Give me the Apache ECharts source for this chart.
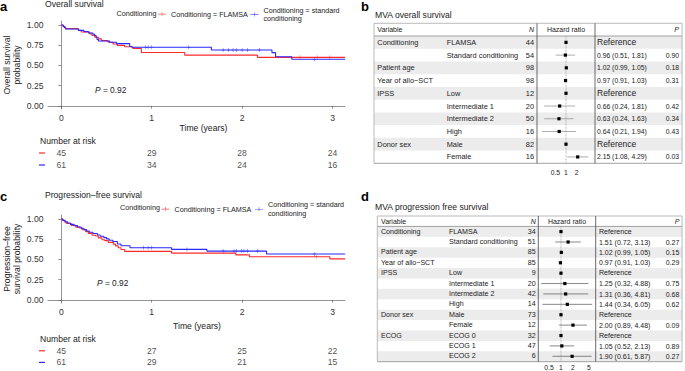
<!DOCTYPE html>
<html><head><meta charset="utf-8">
<script src="https://cdn.jsdelivr.net/npm/echarts@6/dist/echarts.min.js"></script>
<style>html,body{margin:0;padding:0;background:#fff}#c{width:685px;height:371px}</style>
</head><body><div id="c"></div>
<script>
// ---------------- data ----------------
const timeTicks = [0, 1, 2, 3];
const survTicks = [0, 0.25, 0.5, 0.75, 1];

const osFlamsa = [[0,1],[0.02,0.978],[0.045,0.956],[0.186,0.935],[0.22,0.913],[0.315,0.891],[0.34,0.87],[0.37,0.849],[0.41,0.828],[0.443,0.807],[0.517,0.786],[0.572,0.765],[0.62,0.748],[0.70,0.731],[0.79,0.711],[0.885,0.66],[1.365,0.627],[2.17,0.600],[3.14,0.600]];
const osStandard = [[0,1],[0.02,0.984],[0.035,0.967],[0.05,0.951],[0.19,0.934],[0.25,0.918],[0.3,0.902],[0.35,0.885],[0.37,0.869],[0.385,0.852],[0.395,0.82],[0.41,0.803],[0.535,0.787],[0.61,0.770],[0.756,0.735],[0.78,0.724],[1.66,0.69],[2.33,0.658],[2.37,0.608],[2.55,0.576],[3.14,0.576]];
const osFlamsaCensor = [2.64, 2.83, 2.97];
const osStandardCensor = [0.93, 0.96, 1.0, 1.41, 1.79, 1.85, 1.90, 1.94, 2.0, 2.06, 2.19, 2.80];

const pfsFlamsa = [[0,1],[0.02,0.978],[0.045,0.956],[0.06,0.944],[0.11,0.922],[0.16,0.9],[0.2,0.889],[0.23,0.867],[0.27,0.844],[0.3,0.822],[0.34,0.80],[0.38,0.789],[0.41,0.767],[0.45,0.744],[0.48,0.733],[0.52,0.711],[0.575,0.689],[0.6,0.667],[0.63,0.644],[0.66,0.622],[0.70,0.600],[1.22,0.578],[1.93,0.556],[2.08,0.533],[2.97,0.507],[3.14,0.507]];
const pfsStandard = [[0,1],[0.015,0.984],[0.04,0.967],[0.07,0.951],[0.1,0.934],[0.14,0.918],[0.18,0.902],[0.22,0.885],[0.25,0.869],[0.28,0.852],[0.31,0.836],[0.35,0.82],[0.4,0.803],[0.43,0.787],[0.47,0.77],[0.5,0.754],[0.53,0.738],[0.57,0.721],[0.62,0.69],[0.66,0.67],[0.76,0.645],[1.22,0.624],[1.61,0.603],[2.27,0.567],[3.14,0.567]];
const pfsFlamsaCensor = [2.82];
const pfsStandardCensor = [0.91, 0.96, 1.0, 1.39, 1.79, 1.91, 1.94, 1.99, 2.02, 2.06, 2.17, 2.80];

const osRiskFlamsa = [45, 29, 28, 24];
const osRiskStandard = [61, 34, 24, 16];
const pfsRiskFlamsa = [45, 27, 25, 22];
const pfsRiskStandard = [61, 29, 21, 15];

const tableHeader = ['Variable', 'N', 'Hazard ratio', 'P'];

const osVar = ['Conditioning','','Patient age','Year of allo−SCT','IPSS','','','','Donor sex',''];
const osLevel = ['FLAMSA','Standard conditioning','','','Low','Intermediate 1','Intermediate 2','High','Male','Female'];
const osN = [44,54,98,98,12,20,50,16,82,16];
const osHR = [1,0.96,1.02,0.97,1,0.66,0.63,0.64,1,2.15];
const osLo = [null,0.51,0.99,0.91,null,0.24,0.24,0.21,null,1.08];
const osHi = [null,1.81,1.05,1.03,null,1.81,1.63,1.94,null,4.29];
const osP = [null,0.90,0.18,0.31,null,0.42,0.34,0.43,null,0.03];
const osHRTicks = [0.5, 1, 2];

const pfsVar = ['Conditioning','','Patient age','Year of allo−SCT','IPSS','','','','Donor sex','','ECOG','',''];
const pfsLevel = ['FLAMSA','Standard conditioning','','','Low','Intermediate 1','Intermediate 2','High','Male','Female','ECOG 0','ECOG 1','ECOG 2'];
const pfsN = [34,51,85,85,9,20,42,14,73,12,32,47,6];
const pfsHR = [1,1.51,1.02,0.97,1,1.25,1.31,1.44,1,2.00,1,1.05,1.90];
const pfsLo = [null,0.72,0.99,0.91,null,0.32,0.36,0.34,null,0.89,null,0.52,0.61];
const pfsHi = [null,3.13,1.05,1.03,null,4.88,4.81,6.05,null,4.48,null,2.13,5.87];
const pfsP = [null,0.27,0.15,0.29,null,0.75,0.68,0.62,null,0.09,null,0.89,0.27];
const pfsHRTicks = [0.5, 1, 2, 5];

// ---------------- styling ----------------
const FONT = '"Liberation Sans", Arial, Helvetica, sans-serif';
const RED = '#ff2a2a', BLUE = '#2a2aff', TXT = '#222';
const NAME_F = 'Conditioning = FLAMSA';
const NAME_S = 'Conditioning = standard conditioning';
const PLUS = 'path://M0,4.4h10v1.2h-10z M4.2,0h1.6v10h-1.6z';
const LEG_ICON = 'path://M0,4.3h20v1.4h-20z M9.2,0h1.6v10h-1.6z';
const X_MIN = -0.147, X_MAX = 3.138;

function sAt(curve, t) { let s = curve[0][1]; for (const p of curve) if (p[0] <= t) s = p[1]; return s; }

function kmSeries(curve, censor, name, color, idx) {
  return [
    { type: 'scatter', name, xAxisIndex: idx, yAxisIndex: idx, data: censor.map(t => [t, sAt(curve, t)]),
      symbol: PLUS, symbolSize: [3.2, 4], itemStyle: { color }, z: 4 },
    { type: 'line', name, xAxisIndex: idx, yAxisIndex: idx, step: 'end', data: curve,
      symbol: 'none', showSymbol: false, color, lineStyle: { width: 1.1, color }, z: 3 }
  ];
}

function riskSeries(values, cat, idx) {
  return { type: 'scatter', xAxisIndex: idx, yAxisIndex: idx, symbolSize: 0,
    data: values.map((n, i) => [timeTicks[i], cat, n]),
    label: { show: true, position: 'inside', formatter: p => String(p.value[2]),
      fontSize: 8.6, color: TXT, fontFamily: FONT } };
}

function txtEl(s, x, y, align, fs, italic) {
  return { type: 'text', style: { text: s, x, y, align, verticalAlign: 'middle',
    fill: TXT, fontSize: fs, fontFamily: FONT, fontStyle: italic ? 'italic' : 'normal' } };
}

function tableSeries(cfg) {
  const data = [[0, -1]].concat(cfg.level.map((_, i) => [0, i]));
  return {
    type: 'custom', xAxisIndex: cfg.ax, yAxisIndex: cfg.ax, z: 1, silent: true, data,
    renderItem(params, api) {
      const r = api.value(1);
      const a = api.coord([0, r - 0.5]), b = api.coord([cfg.W, r + 0.5]);
      const cy = (a[1] + b[1]) / 2;
      const X = u => api.coord([u, r])[0];
      const ch = [];
      if (r < 0) {
        ch.push(txtEl(tableHeader[0], X(cfg.cVar), cy, 'left', cfg.hfs));
        ch.push(txtEl(tableHeader[1], X(cfg.cN), cy, 'right', cfg.hfs, true));
        ch.push(txtEl(tableHeader[2], X(cfg.cHRh), cy, 'center', cfg.hfs));
        ch.push(txtEl(tableHeader[3], X(cfg.cP), cy, 'right', cfg.hfs, true));
      } else {
        if (r % 2 === 0) ch.push({ type: 'rect', shape: { x: a[0], y: Math.min(a[1], b[1]), width: b[0] - a[0], height: Math.abs(b[1] - a[1]) }, style: { fill: '#ececec' } });
        ch.push(txtEl(cfg.vars[r], X(cfg.cVar), cy, 'left', cfg.fs));
        ch.push(txtEl(cfg.level[r], X(cfg.cLev), cy, 'left', cfg.fs));
        ch.push(txtEl(String(cfg.n[r]), X(cfg.cN), cy, 'right', cfg.fs));
        if (cfg.lo[r] == null) {
          ch.push(txtEl('Reference', X(cfg.cHR), cy, 'left', cfg.refFs));
        } else {
          ch.push(txtEl(cfg.hr[r].toFixed(2) + ' (' + cfg.lo[r].toFixed(2) + ', ' + cfg.hi[r].toFixed(2) + ')', X(cfg.cHR), cy, 'left', cfg.hrFs));
          ch.push(txtEl(cfg.p[r].toFixed(2), X(cfg.cP), cy, 'right', cfg.hrFs));
        }
      }
      return { type: 'group', children: ch };
    }
  };
}

function frameSeries(cfg) {
  const N = cfg.level.length;
  return {
    type: 'custom', xAxisIndex: cfg.ax, yAxisIndex: cfg.ax, z: 2, silent: true, data: [[0, 0]],
    renderItem(params, api) {
      const P = (u, r) => api.coord([u, r]);
      const L = (p, q, c, w) => ({ type: 'line', shape: { x1: p[0], y1: p[1], x2: q[0], y2: q[1] }, style: { stroke: c, lineWidth: w } });
      const top = -1.5, hb = -0.5, bot = N - 0.5;
      return { type: 'group', children: [
        L(P(0, top), P(cfg.W, top), '#a8a8a8', 0.8),
        L(P(0, hb), P(cfg.W, hb), '#8a8a8a', 0.8),
        L(P(0, bot), P(cfg.W, bot), '#8a8a8a', 0.8),
        L(P(0, top), P(0, bot), '#a8a8a8', 0.8),
        L(P(cfg.W, top), P(cfg.W, bot), '#a8a8a8', 0.8),
        L(P(cfg.sep1, top), P(cfg.sep1, bot), '#444', 0.8),
        L(P(cfg.sep2, top), P(cfg.sep2, bot), '#444', 0.8)
      ] };
    }
  };
}

function forestSeries(cfg, ax) {
  return [
    { type: 'line', xAxisIndex: ax, yAxisIndex: ax, data: [[1, -0.5], [1, cfg.hr.length - 0.5]], symbol: 'none',
      lineStyle: { type: 'dotted', color: '#888', width: 0.7 }, z: 3, silent: true },
    { type: 'custom', xAxisIndex: ax, yAxisIndex: ax, z: 4, silent: true,
      data: cfg.hr.map((h, i) => [h, i]),
      renderItem(params, api) {
        const i = params.dataIndex;
        const c = api.coord([api.value(0), api.value(1)]);
        const ch = [];
        if (cfg.lo[i] != null) {
          const p = api.coord([cfg.lo[i], i]), q = api.coord([cfg.hi[i], i]);
          ch.push({ type: 'line', shape: { x1: p[0], y1: p[1], x2: q[0], y2: q[1] }, style: { stroke: cfg.ciColor, lineWidth: 0.7 } });
        }
        const s = 3.2;
        ch.push({ type: 'rect', shape: { x: c[0] - s / 2, y: c[1] - s / 2, width: s, height: s }, style: { fill: '#000' } });
        return { type: 'group', children: ch };
      } }
  ];
}

const osTable = { ax: 4, W: 308, cVar: 3.3, cLev: 72.7, cN: 160, sep1: 163, sep2: 221, cHRh: 192, cHR: 223, cP: 305,
  fs: 7.4, hfs: 7, hrFs: 6.8, refFs: 8.5, vars: osVar, level: osLevel, n: osN, hr: osHR, lo: osLo, hi: osHi, p: osP, ciColor: '#8a8a8a' };
const pfsTable = { ax: 6, W: 304.7, cVar: 3.7, cLev: 71.7, cN: 158.4, sep1: 161, sep2: 218.4, cHRh: 189.7, cHR: 221.7, cP: 302,
  fs: 7.1, hfs: 7, hrFs: 7, refFs: 7.1, vars: pfsVar, level: pfsLevel, n: pfsN, hr: pfsHR, lo: pfsLo, hi: pfsHi, p: pfsP, ciColor: '#555' };

// ---------------- axes ----------------
const axLine = { show: true, lineStyle: { color: '#666', width: 0.7 } };
function kmX(grid, gap, pad) {
  return { gridIndex: grid, type: 'value', min: X_MIN, max: X_MAX, axisLine: axLine,
    axisTick: { show: true, length: 3, customValues: timeTicks, lineStyle: { color: '#666', width: 0.7 } },
    axisLabel: { customValues: timeTicks, margin: 4.5, fontSize: 8.6, color: '#333', fontFamily: FONT },
    splitLine: { show: false },
    name: 'Time (years)', nameLocation: 'middle', nameGap: gap,
    nameTextStyle: { fontSize: 8.6, color: TXT, fontFamily: FONT, padding: pad } };
}
function kmY(grid, name, gap) {
  return { gridIndex: grid, type: 'value', min: -0.04, max: 1.05, axisLine: axLine,
    axisTick: { show: true, length: 3, customValues: survTicks, lineStyle: { color: '#666', width: 0.7 } },
    axisLabel: { customValues: survTicks, margin: 4.5, fontSize: 8.6, color: '#333', fontFamily: FONT, formatter: v => v.toFixed(2) },
    splitLine: { show: false },
    name, nameLocation: 'middle', nameGap: gap,
    nameTextStyle: { fontSize: 8.6, color: TXT, fontFamily: FONT, lineHeight: 10 } };
}
const hiddenX = (g, min, max) => ({ gridIndex: g, type: 'value', min, max, show: false });
const riskY = g => ({ gridIndex: g, type: 'category', data: ['f', 's'], inverse: true,
  axisLine: { show: false }, axisTick: { show: false },
  axisLabel: { interval: 0, margin: 3, fontSize: 6, formatter: v => v === 'f' ? '{redDash| }' : '{blueDash| }',
    rich: { redDash: { width: 6, height: 1.2, backgroundColor: RED }, blueDash: { width: 6, height: 1.2, backgroundColor: BLUE } } } });
const forestX = (g, min, max, ticks, margin) => ({ gridIndex: g, type: 'log', logBase: 2, min, max,
  axisLine: { show: false }, axisTick: { show: false }, splitLine: { show: false },
  axisLabel: { show: true, customValues: ticks, margin, fontSize: 6.8, color: TXT, fontFamily: FONT, formatter: v => String(v) } });
const hiddenY = (g, min, max) => ({ gridIndex: g, type: 'value', min, max, inverse: true, show: false });

// ---------------- titles ----------------
const T = (text, left, top, fs, extra) => ({ text, left, top, padding: 0,
  textStyle: Object.assign({ fontSize: fs, color: TXT, fontFamily: FONT, fontWeight: 'normal' }, extra || {}) });
const pStyle = { rich: { i: { fontStyle: 'italic', fontSize: 8.4, color: TXT, fontFamily: FONT } } };

const legendBase = { padding: 0, itemWidth: 8, itemHeight: 6, selectedMode: false, orient: 'horizontal',
  textStyle: { fontSize: 7.2, color: TXT, fontFamily: FONT, lineHeight: 8.8 },
  formatter: n => n.replace('standard conditioning', 'standard\nconditioning') };
const lg = (name, color, left, top) => Object.assign({}, legendBase, { left, top,
  data: [{ name, icon: LEG_ICON, itemStyle: { color } }] });

const option = {
  animation: false,
  backgroundColor: '#fff',
  title: [
    T('a', 0, 0, 13, { fontWeight: 'bold', color: '#000' }),
    T('Overall survival', 45, -1, 8.6),
    T('Conditioning', 116.5, 10, 7.2),
    T('{i|P} = 0.92', 95, 86, 8.4, pStyle),
    T('Number at risk', 40, 136.5, 8.6),
    T('c', 0, 190, 13, { fontWeight: 'bold', color: '#000' }),
    T('Progression–free survival', 45, 190.5, 8.6),
    T('Conditioning', 120, 204.3, 7.2),
    T('{i|P} = 0.92', 97, 278.5, 8.4, pStyle),
    T('Number at risk', 40, 334, 8.6),
    T('b', 361, 0, 13, { fontWeight: 'bold', color: '#000' }),
    T('MVA overall survival', 375, 10.5, 8.6),
    T('d', 361, 190, 13, { fontWeight: 'bold', color: '#000' }),
    T('MVA progression free survival', 375, 202, 8.6)
  ],
  legend: [
    lg(NAME_F, RED, 158, 9.7),
    lg(NAME_S, BLUE, 250.5, 5.6),
    lg(NAME_F, RED, 161.5, 204.7),
    lg(NAME_S, BLUE, 255, 200.5)
  ],
  grid: [
    { left: 48, top: 21, width: 297, height: 88 },
    { left: 48, top: 147, width: 297, height: 24 },
    { left: 48, top: 215, width: 297, height: 88 },
    { left: 48, top: 345, width: 297, height: 23.2 },
    { left: 374, top: 23.3, width: 308, height: 140 },
    { left: 537, top: 36, width: 58, height: 127.3 },
    { left: 377.3, top: 216, width: 304.7, height: 145.7 },
    { left: 538.3, top: 226.4, width: 57.4, height: 135.3 }
  ],
  xAxis: [
    kmX(0, 13.4, [0, 0, 0, 14]),
    hiddenX(1, X_MIN, X_MAX),
    kmX(2, 18.7, [0, 0, 0, 1]),
    hiddenX(3, X_MIN, X_MAX),
    hiddenX(4, 0, 308),
    forestX(5, 0.15, 6.66, osHRTicks, 6),
    hiddenX(6, 0, 304.7),
    forestX(7, 0.27, 7.42, pfsHRTicks, 2.5)
  ],
  yAxis: [
    kmY(0, 'Overall survival\nprobability', 26),
    riskY(1),
    kmY(2, 'Progression–free\nsurvival probability', 26),
    riskY(3),
    hiddenY(4, -1.5, 9.5),
    hiddenY(5, -0.5, 9.5),
    hiddenY(6, -1.5, 12.5),
    hiddenY(7, -0.5, 12.5)
  ],
  series: [
    ...kmSeries(osFlamsa, osFlamsaCensor, NAME_F, RED, 0),
    ...kmSeries(osStandard, osStandardCensor, NAME_S, BLUE, 0),
    ...kmSeries(pfsFlamsa, pfsFlamsaCensor, NAME_F, RED, 2),
    ...kmSeries(pfsStandard, pfsStandardCensor, NAME_S, BLUE, 2),
    riskSeries(osRiskFlamsa, 'f', 1), riskSeries(osRiskStandard, 's', 1),
    riskSeries(pfsRiskFlamsa, 'f', 3), riskSeries(pfsRiskStandard, 's', 3),
    tableSeries(osTable), frameSeries(osTable), ...forestSeries(osTable, 5),
    tableSeries(pfsTable), frameSeries(pfsTable), ...forestSeries(pfsTable, 7)
  ]
};
const chart = echarts.init(document.getElementById('c'), null, { renderer: 'svg' });
chart.setOption(option);
</script></body></html>
